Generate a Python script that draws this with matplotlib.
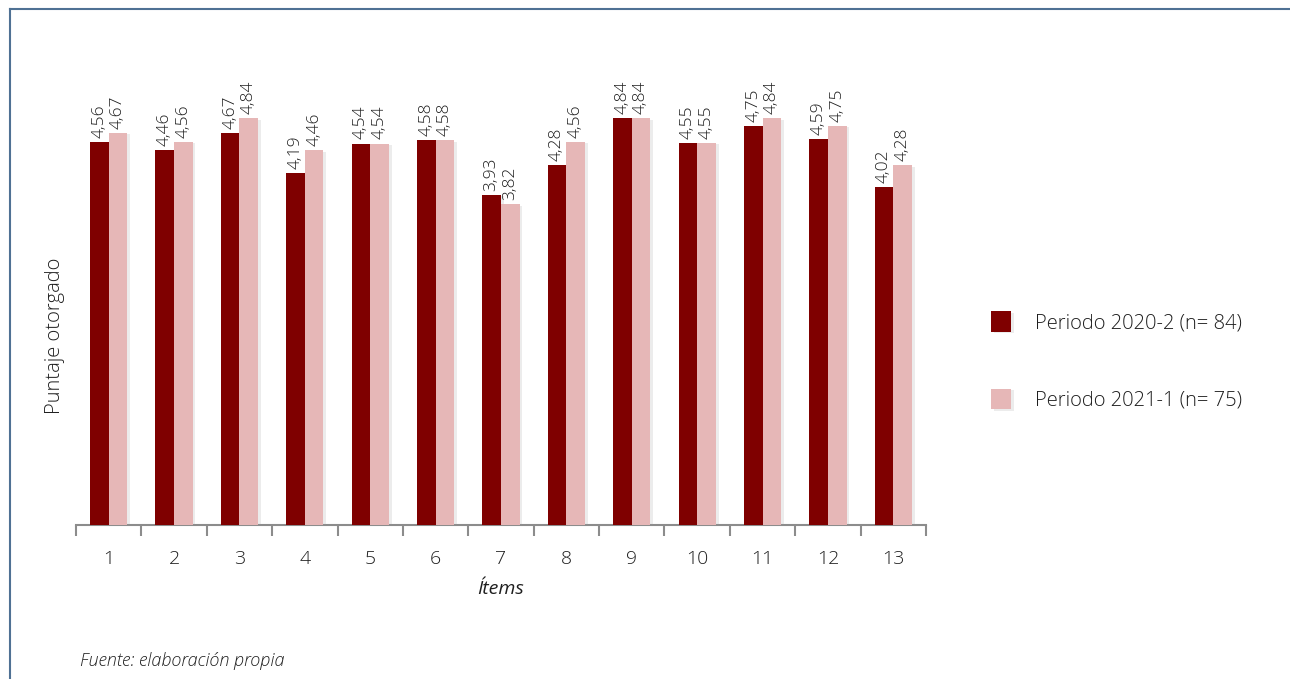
import numpy as np
import matplotlib
matplotlib.use('Agg')
import matplotlib.pyplot as plt
import matplotlib.patheffects as pe
from matplotlib.lines import Line2D

# Values
items = ['1', '2', '3', '4', '5', '6', '7', '8', '9', '10', '11', '12', '13']
p2020 = [4.56, 4.46, 4.67, 4.19, 4.54, 4.58, 3.93, 4.28, 4.84, 4.55, 4.75, 4.59, 4.02]
p2021 = [4.67, 4.56, 4.84, 4.46, 4.54, 4.58, 3.82, 4.56, 4.84, 4.55, 4.84, 4.75, 4.28]
labels = ['Periodo 2020-2 (n= 84)', 'Periodo 2021-1 (n= 75)']

DARK = '#7f0000'
LIGHT = '#e6b7b7'
TXT = '#1f1f1f'

plt.rcParams['font.family'] = ['Open Sans', 'DejaVu Sans']
plt.rcParams['font.weight'] = 'light'

W, H = 1290, 679
fig = plt.figure(figsize=(12.9, 6.79), dpi=100)
ax = fig.add_axes([76 / W, 154 / H, 850 / W, 462 / H])

x = np.arange(len(items))
bw = 0.285
shadow = [pe.SimplePatchShadow(offset=(2, -1), shadow_rgbFace='#999999', alpha=0.18), pe.Normal()]
b1 = ax.bar(x - bw / 2, p2020, bw, color=DARK, label=labels[0], zorder=3)
b2 = ax.bar(x + bw / 2, p2021, bw, color=LIGHT, label=labels[1], zorder=3)
for b in list(b1) + list(b2):
    b.set_path_effects(shadow)

# value labels
for xs, vals in [(x - bw / 2, p2020), (x + bw / 2, p2021)]:
    for xi, v in zip(xs, vals):
        ax.annotate(f'{v:.2f}'.replace('.', ','), (xi, v), xytext=(0, 3),
                    textcoords='offset points', rotation=90, ha='center', va='bottom',
                    fontsize=12.5, color=TXT, fontweight='light')

ax.set_xlim(-0.5, len(items) - 0.5)
ax.set_ylim(0, 5.5)
for s in ['top', 'right', 'left']:
    ax.spines[s].set_visible(False)
ax.spines['bottom'].set_color('#8c8c8c')
ax.spines['bottom'].set_linewidth(1.5)
ax.set_yticks([])

# ticks at category boundaries, labels at centres
ax.set_xticks(np.arange(len(items) + 1) - 0.5)
ax.set_xticklabels([])
ax.tick_params(axis='x', which='major', length=8, width=1.5, color='#8c8c8c', direction='out')
ax.set_xticks(x, minor=True)
ax.set_xticklabels(items, minor=True, fontsize=14, color=TXT)
ax.tick_params(axis='x', which='minor', length=0, pad=18)

ax.set_xlabel('Ítems', fontsize=14, style='italic', color=TXT, labelpad=9)
fig.text(55 / W, 1 - 336 / H, 'Puntaje otorgado', rotation=90, ha='center', va='center',
         fontsize=14.5, color=TXT)

fig.legend(handles=[b1, b2], labels=labels, loc='center left',
           bbox_to_anchor=(973 / W, 1 - 361 / H), frameon=False, fontsize=14.5,
           handlelength=1.0, handleheight=1.2, labelspacing=2.75, handletextpad=1.2,
           labelcolor=TXT)

fig.text(80 / W, 1 - 661 / H, 'Fuente: elaboración propia', fontsize=13, style='italic',
         color=TXT, va='center')

# frame lines (top and left)
fig.add_artist(Line2D([10 / W, 1], [1 - 9 / H, 1 - 9 / H], color='#4f7194', lw=1.5))
fig.add_artist(Line2D([10 / W, 10 / W], [0, 1 - 9 / H], color='#4f7194', lw=1.5))

fig.savefig('out.png', dpi=100, facecolor='white')
